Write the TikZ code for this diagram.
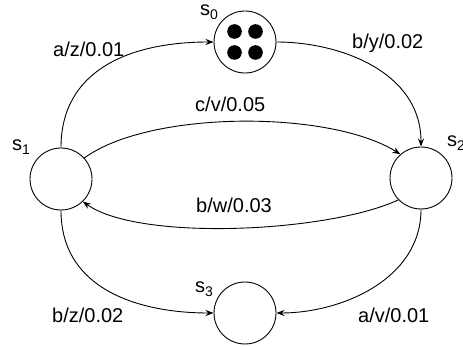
\documentclass[tikz,border=0pt]{standalone}
\usepackage{fontspec}
\setmainfont{Liberation Sans}
\usetikzlibrary{arrows.meta}
\tikzset{
  state/.style={circle,draw,line width=0.9pt,minimum size=62pt,inner sep=0pt},
  dot/.style={circle,fill=black,minimum size=14.6pt,inner sep=0pt},
  lbl/.style={anchor=base west,inner sep=0pt,font=\fontsize{20}{24}\selectfont},
  edge/.style={line width=0.9pt,-{Stealth[length=8pt,width=6pt]}}
}
\begin{document}
\begin{tikzpicture}[x=1pt,y=-1pt]
\useasboundingbox (0,0) rectangle (463,347);
\node[state] (s0) at (245,42) {};
\node[state] (s1) at (61,179) {};
\node[state] (s2) at (421,178) {};
\node[state] (s3) at (245,313) {};
\node[dot] (d1) at (234.5,31.5) {};
\node[dot] (d2) at (255.5,31.5) {};
\node[dot] (d3) at (234.5,52.5) {};
\node[dot] (d4) at (255.5,52.5) {};
\node[lbl] (l0) at (200,16) {s\textsubscript{0}};
\node[lbl] (l1) at (12,151) {s\textsubscript{1}};
\node[lbl] (l2) at (447,147) {s\textsubscript{2}};
\node[lbl] (l3) at (195,293) {s\textsubscript{3}};
\draw[edge] (s1.north) .. controls (61,70) and (130,42) .. (s0.west);
\draw[edge] (s0.east) .. controls (340,42) and (421,72) .. (s2.north);
\draw[edge] (s1.42) .. controls (150,110) and (330,110) .. (s2.131);
\draw[edge] (s2.224) .. controls (330,232) and (140,242) .. (s1.-46);
\draw[edge] (s1.south) .. controls (61,290) and (140,313) .. (s3.west);
\draw[edge] (s2.south) .. controls (421,280) and (340,313) .. (s3.east);
\node[lbl] (e1) at (53,57) {a/z/0.01};
\node[lbl] (e2) at (352,49) {b/y/0.02};
\node[lbl] (e3) at (195,112) {c/v/0.05};
\node[lbl] (e4) at (196,213) {b/w/0.03};
\node[lbl] (e5) at (52,322) {b/z/0.02};
\node[lbl] (e6) at (358,323) {a/v/0.01};
\end{tikzpicture}
\end{document}
